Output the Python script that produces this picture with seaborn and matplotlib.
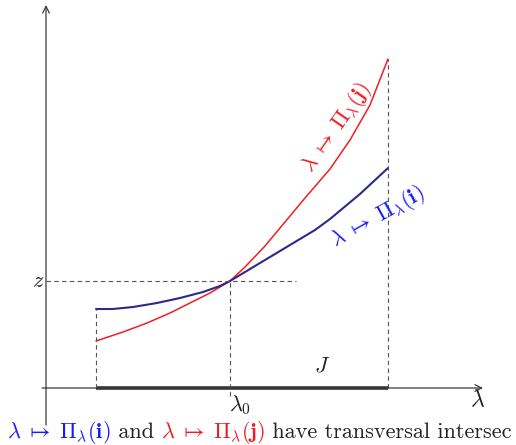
import numpy as np
import pandas as pd
import matplotlib
matplotlib.use("Agg")
import matplotlib.pyplot as plt
import seaborn as sns

# Parameter values along the interval J (horizontal position) and curve heights
lam_blue = [96, 113, 133, 157, 180, 203, 220, 230, 245, 265, 285, 315, 330, 360, 388]
pi_i = [79, 79, 81, 85, 90, 96, 102, 107, 116, 128, 140, 158, 169, 194, 220]

lam_red = [96, 123, 147, 170, 190, 210, 230, 245, 265, 285, 305, 330, 350, 370, 388]
pi_j = [47, 56, 65, 75, 85, 95, 107, 121, 142, 166, 190, 219, 248, 283, 329]

lam0 = 230
z_level = 107
J_start, J_end = 96, 388

label_i = r"$\lambda\;\mapsto\;\Pi_\lambda(\mathbf{i})$"
label_j = r"$\lambda\;\mapsto\;\Pi_\lambda(\mathbf{j})$"

sns.set_theme(style="white")
plt.rcParams["mathtext.fontset"] = "cm"
plt.rcParams["font.family"] = ["cmr10", "DejaVu Serif"]
plt.rcParams["axes.unicode_minus"] = False

BLUE_LINE = "#2a2a8c"
BLUE_TXT = "#1a1aff"
RED = "#f01e23"
AXIS = "#3a3a3a"
DASH = "#555555"
FS = 16

fig = plt.figure(figsize=(5.16, 4.45), dpi=100)
ax = fig.add_axes([0, 0, 1, 1])
ax.set_xlim(0, 516)
ax.set_ylim(-57, 388)
ax.axis("off")

df_i = pd.DataFrame({"lam": lam_blue, "val": pi_i})
df_j = pd.DataFrame({"lam": lam_red, "val": pi_j})
sns.lineplot(data=df_j, x="lam", y="val", color=RED, lw=1.1, ax=ax, sort=False)
sns.lineplot(data=df_i, x="lam", y="val", color=BLUE_LINE, lw=1.5, ax=ax, sort=False)

# axes with arrow heads
ax.annotate("", xy=(483, 0), xytext=(42, 0),
            arrowprops=dict(arrowstyle="->", color=AXIS, lw=0.9, shrinkA=0, shrinkB=0))
ax.annotate("", xy=(46, 383), xytext=(46, -37),
            arrowprops=dict(arrowstyle="->", color=AXIS, lw=0.9, shrinkA=0, shrinkB=0))

# interval J
ax.plot([J_start, J_end], [0, 0], color="#333333", lw=2.6, solid_capstyle="butt")

dash = dict(color=DASH, lw=0.8, ls=(0, (4, 3)))
ax.plot([46, 296], [z_level, z_level], **dash)
ax.plot([lam0, lam0], [-8, z_level], **dash)
ax.plot([J_start, J_start], [0, pi_i[0]], **dash)
ax.plot([J_end, J_end], [0, pi_j[-1]], **dash)

ax.text(38, z_level, r"$z$", fontsize=FS, ha="center", va="center", color="#222222")
ax.text(240, -17, r"$\lambda_0$", fontsize=FS, ha="center", va="center", color="#222222")
ax.text(478, -12, r"$\lambda$", fontsize=FS + 1, ha="center", va="center", color="#222222")
ax.text(322, 22, r"$J$", fontsize=FS, ha="center", va="center", color="#222222")

ax.text(337, 260, label_j, fontsize=FS, color=RED, rotation=55,
        ha="center", va="center", rotation_mode="anchor")
ax.text(378, 171, label_i, fontsize=FS, color=BLUE_TXT, rotation=29,
        ha="center", va="center", rotation_mode="anchor")

# caption built from coloured pieces
pieces = [(label_i, BLUE_TXT), (" and ", "#222222"), (label_j, RED),
          (" have transversal intersec", "#222222")]
fig.canvas.draw()
renderer = fig.canvas.get_renderer()
x_px = 7
for s, c in pieces:
    t = fig.text(x_px / 516, 1 - 438 / 445, s, fontsize=FS, color=c,
                 ha="left", va="baseline")
    bb = t.get_window_extent(renderer)
    x_px += bb.width

fig.savefig("out.png", dpi=100)
